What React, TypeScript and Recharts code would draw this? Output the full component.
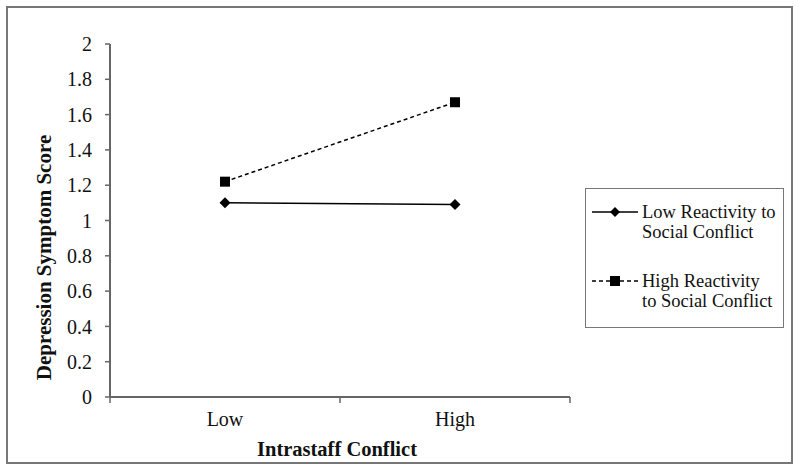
import React from 'react'
import { LineChart, Line, XAxis, YAxis } from 'recharts'

const categories = ['Low', 'High']
const lowReactivity = [1.1, 1.09]
const highReactivity = [1.22, 1.67]
const yTicks = [0, 0.2, 0.4, 0.6, 0.8, 1, 1.2, 1.4, 1.6, 1.8, 2]

const legendItems = [
  { key: 'low', lines: ['Low Reactivity to', 'Social Conflict'], dashed: false },
  { key: 'high', lines: ['High Reactivity', 'to Social Conflict'], dashed: true }
]

const data = categories.map((name, i) => ({
  name,
  low: lowReactivity[i],
  high: highReactivity[i]
}))

const FONT = '"Liberation Serif", "Times New Roman", serif'
const W = 800
const H = 472
const MARGIN = { top: 44, right: 230, left: 0, bottom: 0 }
const Y_AXIS_W = 110
const X_AXIS_H = 75
const BAND = (W - MARGIN.right - Y_AXIS_W) / categories.length

const Diamond = (props: any) => {
  const { cx, cy } = props
  if (cx == null || cy == null) return null
  const r = 5.5
  return (
    <path
      d={`M${cx},${cy - r}L${cx + r},${cy}L${cx},${cy + r}L${cx - r},${cy}Z`}
      fill="#000"
    />
  )
}

const Square = (props: any) => {
  const { cx, cy } = props
  if (cx == null || cy == null) return null
  const r = 5
  return <rect x={cx - r} y={cy - r} width={r * 2} height={r * 2} fill="#000" />
}

// category tick: label in the middle, tick marks between categories (Excel style)
const CategoryTick = (props: any) => {
  const { x, y, payload, index } = props
  const last = index === categories.length - 1
  return (
    <g>
      <line x1={x - BAND / 2} y1={y} x2={x - BAND / 2} y2={y + 6} stroke="#666" strokeWidth={1.5} />
      {last && (
        <line x1={x + BAND / 2} y1={y} x2={x + BAND / 2} y2={y + 6} stroke="#666" strokeWidth={1.5} />
      )}
      <text x={x} y={y + 29} textAnchor="middle" fontFamily={FONT} fontSize={20} fill="#111">
        {payload.value}
      </text>
    </g>
  )
}

const YTitle = (props: any) => {
  const { viewBox } = props
  const cx = 44
  const cy = viewBox.y + viewBox.height / 2 + 37
  return (
    <text
      x={cx}
      y={cy}
      transform={`rotate(-90, ${cx}, ${cy})`}
      textAnchor="middle"
      dominantBaseline="central"
      fontFamily={FONT}
      fontWeight="bold"
      fontSize={21}
      fill="#111"
    >
      Depression Symptom Score
    </text>
  )
}

const XTitle = (props: any) => {
  const { viewBox } = props
  return (
    <text
      x={viewBox.x + viewBox.width / 2 - 3}
      y={456}
      textAnchor="middle"
      fontFamily={FONT}
      fontWeight="bold"
      fontSize={20.5}
      fill="#111"
    >
      Intrastaff Conflict
    </text>
  )
}

const LegendSymbol = ({ dashed }: { dashed: boolean }) => (
  <svg width={46} height={12} style={{ flex: '0 0 auto', marginTop: 4 }}>
    <line
      x1={0}
      y1={6}
      x2={46}
      y2={6}
      stroke="#000"
      strokeWidth={1.5}
      strokeDasharray={dashed ? '4 3' : undefined}
    />
    {dashed ? (
      <rect x={18} y={1} width={10} height={10} fill="#000" />
    ) : (
      <path d="M23,1L28,6L23,11L18,6Z" fill="#000" />
    )}
  </svg>
)

const ChartLegend = () => (
  <div
    style={{
      position: 'absolute',
      left: 585,
      top: 188,
      boxSizing: 'border-box',
      width: 199,
      height: 140,
      border: '1.5px solid #777',
      padding: '13px 0 0 6px',
      fontFamily: FONT,
      fontSize: 18.5,
      lineHeight: '20px',
      color: '#111',
      background: '#fff'
    }}
  >
    {legendItems.map((it, i) => (
      <div key={it.key} style={{ display: 'flex', alignItems: 'flex-start', marginTop: i ? 29 : 0 }}>
        <LegendSymbol dashed={it.dashed} />
        <div style={{ marginLeft: 4, whiteSpace: 'nowrap' }}>
          {it.lines.map(l => (
            <div key={l}>{l}</div>
          ))}
        </div>
      </div>
    ))}
  </div>
)

export default function App() {
  return (
    <div style={{ position: 'absolute', left: 0, top: 0, width: W, height: H, background: '#fff' }}>
      <div
        style={{
          position: 'absolute',
          left: 6,
          top: 6,
          width: 787,
          height: 458,
          boxSizing: 'border-box',
          border: '2px solid #777'
        }}
      />
      <div style={{ position: 'absolute', left: 0, top: 0 }}>
        <LineChart width={W} height={H} data={data} margin={MARGIN}>
          <XAxis
            dataKey="name"
            scale="band"
            height={X_AXIS_H}
            axisLine={{ stroke: '#666', strokeWidth: 2 }}
            tickLine={false}
            tickSize={0}
            tickMargin={0}
            tick={<CategoryTick />}
            interval={0}
            label={<XTitle />}
          />
          <XAxis
            xAxisId="top"
            dataKey="name"
            scale="band"
            orientation="top"
            height={0}
            tick={false}
            tickLine={false}
            axisLine={{ stroke: '#999', strokeWidth: 2 }}
          />
          <YAxis
            width={Y_AXIS_W}
            domain={[0, 2]}
            ticks={yTicks}
            interval={0}
            axisLine={{ stroke: '#666', strokeWidth: 2 }}
            tickLine={{ stroke: '#666', strokeWidth: 1.5 }}
            tickSize={5}
            tickMargin={13}
            tick={{ fontFamily: FONT, fontSize: 20, fill: '#111' }}
            label={<YTitle />}
          />
          <YAxis
            yAxisId="right"
            orientation="right"
            width={0}
            domain={[0, 2]}
            tick={false}
            tickLine={false}
            axisLine={{ stroke: '#999', strokeWidth: 2 }}
          />
          <Line
            dataKey="low"
            stroke="#000"
            strokeWidth={1.5}
            dot={<Diamond />}
            isAnimationActive={false}
          />
          <Line
            dataKey="high"
            stroke="#000"
            strokeWidth={1.5}
            strokeDasharray="4 3"
            dot={<Square />}
            isAnimationActive={false}
          />
        </LineChart>
      </div>
      <ChartLegend />
    </div>
  )
}
